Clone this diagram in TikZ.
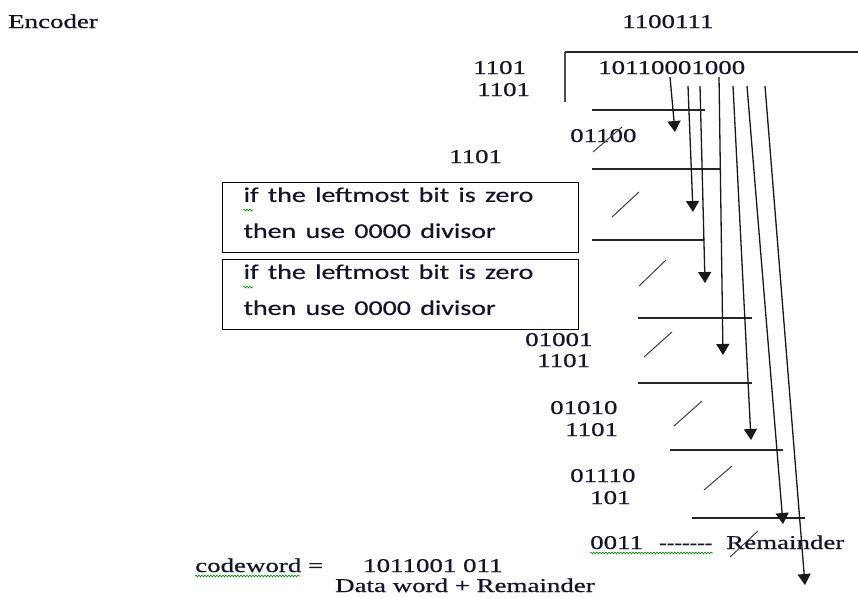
\documentclass[tikz,border=0pt]{standalone}
\usepackage{fontspec}
\setmainfont{Liberation Serif}[FakeBold=0.5]
\newfontfamily\calfont{Carlito}[FakeBold=0.4]
\usepackage{graphicx}
\usetikzlibrary{arrows.meta,decorations.pathmorphing}
\newcommand\sx[1]{\scalebox{1.38}[1]{#1}}
\newcommand\cx[1]{\scalebox{1.33}[1]{#1}}
\newcommand\dashrun{\scalebox{0.85}[1]{\mbox{-}\mbox{-}\mbox{-}\mbox{-}\mbox{-}\mbox{-}\mbox{-}}}
\begin{document}
\begin{tikzpicture}[x=1pt,y=-1pt,
  txt/.style={anchor=base west, inner sep=0pt, font=\fontsize{19.5}{22}\selectfont, text={rgb,255:red,20;green,20;blue,45}},
  rulel/.style={line width=1.3pt, black!85},
  slash/.style={line width=1pt, black!75},
  arr/.style={line width=1.3pt, black!90, -{Triangle[width=13pt,length=11pt]}},
  note/.style={draw, line width=1.3pt, anchor=north west, minimum width=356pt, minimum height=70pt,
    inner xsep=21pt, inner ysep=0pt, text width=314pt, align=left,
    text={rgb,255:red,20;green,20;blue,45},
    font=\calfont\fontsize{21}{36}\selectfont},
  squig/.style={green!55!black, line width=0.6pt, decorate, decoration={snake, segment length=3pt, amplitude=0.9pt}}
]
\fill[white] (0,0) rectangle (858,597);
\useasboundingbox (0,0) rectangle (858,597);

% texts
\node[txt] (enc) at (8,28) {\sx{Encoder}};
\node[txt] (quot) at (622,28) {\sx{1100111}};
\node[txt] (div) at (473,74) {\sx{1101}};
\node[txt] (dvd) at (598,74) {\sx{10110001000}};
\node[txt] (s1) at (477,96) {\sx{1101}};
\node[txt] (r1) at (570,142) {\sx{01100}};
\node[txt] (s2) at (449,163) {\sx{1101}};
\node[note] (n1) at (222,182) {\cx{if the leftmost bit is zero}\\\cx{then use 0000 divisor}\rule[-10pt]{0pt}{0pt}};
\node[note] (n2) at (222,259) {\cx{if the leftmost bit is zero}\\\cx{then use 0000 divisor}\rule[-10pt]{0pt}{0pt}};
\node[txt] (r3) at (525,346) {\sx{01001}};
\node[txt] (s4) at (537,367) {\sx{1101}};
\node[txt] (r4) at (550,414) {\sx{01010}};
\node[txt] (s5) at (565,436) {\sx{1101}};
\node[txt] (r5) at (570,482) {\sx{01110}};
\node[txt] (s6) at (590,504) {\sx{101}};
\node[txt] (rem) at (590,549) {\sx{0011\hspace{11.7pt}\dashrun\hspace{10pt}Remainder}};
\node[txt] (cw) at (195,572) {\sx{codeword =}};
\node[txt] (cwv) at (363,572) {\sx{1011001 011}};
\node[txt] (dw) at (335,592) {\sx{Data word + Remainder}};

% spell-check squiggles
\draw[squig] (243,210) -- (253,210);
\draw[squig] (243,287) -- (253,287);
\draw[squig] (195,576) -- (300,576);
\draw[squig] (590,553) -- (713,553);

% division bracket
\coordinate (bA) at (565,102);
\coordinate (bB) at (565,52);
\coordinate (bC) at (858,52);
\draw[line width=1.8pt, black!70] (bA) -- (bB);
\draw[rulel] (bB) -- (bC);

% subtraction rules
\coordinate (h1a) at (592,110); \coordinate (h1b) at (705,110);
\coordinate (h2a) at (592,169); \coordinate (h2b) at (720,169);
\coordinate (h3a) at (592,240); \coordinate (h3b) at (704,240);
\coordinate (h4a) at (638,318); \coordinate (h4b) at (752,318);
\coordinate (h5a) at (638,383); \coordinate (h5b) at (752,383);
\coordinate (h6a) at (670,450); \coordinate (h6b) at (783,450);
\coordinate (h7a) at (692,518); \coordinate (h7b) at (805,518);
\foreach \i in {1,...,7} \draw[rulel] (h\i a) -- (h\i b);

% slashes
\coordinate (l1a) at (593,152); \coordinate (l1b) at (622,127);
\coordinate (l2a) at (612,217); \coordinate (l2b) at (639,192);
\coordinate (l3a) at (639,286); \coordinate (l3b) at (666,260);
\coordinate (l4a) at (644,357); \coordinate (l4b) at (672,332);
\coordinate (l5a) at (674,426); \coordinate (l5b) at (702,401);
\coordinate (l6a) at (704,490); \coordinate (l6b) at (732,466);
\coordinate (l7a) at (730,557); \coordinate (l7b) at (758,531);
\foreach \i in {1,...,7} \draw[slash] (l\i a) -- (l\i b);

% bring-down arrows
\coordinate (a1s) at (670,77); \coordinate (a1e) at (675,132);
\coordinate (a2s) at (688,86); \coordinate (a2e) at (693,212);
\coordinate (a3s) at (700,86); \coordinate (a3e) at (705,283);
\coordinate (a4s) at (719,77); \coordinate (a4e) at (723,355);
\coordinate (a5s) at (733,86); \coordinate (a5e) at (751,440);
\coordinate (a6s) at (747,86); \coordinate (a6e) at (783,524);
\coordinate (a7s) at (765,86); \coordinate (a7e) at (805,585);
\foreach \i in {1,...,7} \draw[arr] (a\i s) -- (a\i e);
\end{tikzpicture}
\end{document}
